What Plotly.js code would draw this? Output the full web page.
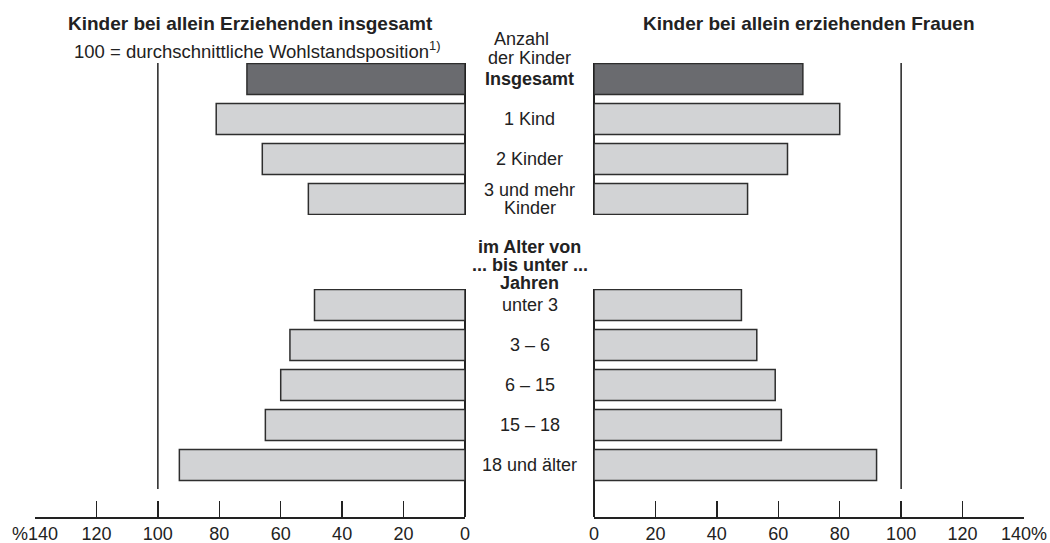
<!DOCTYPE html>
<html><head><meta charset="utf-8">
<script src="https://cdn.plot.ly/plotly-3.0.1.min.js"></script>
<style>html,body{margin:0;padding:0;background:#fff}#chart{width:1050px;height:543px}</style>
</head><body><div id="chart"></div>
<script>
// ---- data ----
const groupKids = ["Insgesamt", "1 Kind", "2 Kinder", "3 und mehr Kinder"];
const groupAge = ["unter 3", "3 – 6", "6 – 15", "15 – 18", "18 und älter"];
const kidsAll = [71, 81, 66, 51];
const kidsWomen = [68, 80, 63, 50];
const ageAll = [49, 57, 60, 65, 93];
const ageWomen = [48, 53, 59, 61, 92];
const tickVals = [0, 20, 40, 60, 80, 100, 120, 140];
const tickTextLeft = ["0", "20", "40", "60", "80", "100", "120", "%140"];
const tickTextRight = ["0", "20", "40", "60", "80", "100", "120", "140%"];
const referenceLevel = 100;
const titleLeft = "Kinder bei allein Erziehenden insgesamt";
const subtitleLeft = "100 = durchschnittliche Wohlstandsposition<sup>1)</sup>";
const titleRight = "Kinder bei allein erziehenden Frauen";
const headKids = ["Anzahl", "der Kinder"];
const headAge = ["im Alter von", "... bis unter ...", "Jahren"];

// ---- styling ----
const W = 1050, H = 543;
const FONT = "Liberation Sans, Arial, Helvetica, sans-serif";
const INK = "#222222";
const DARK = "#6a6b6f", LIGHT = "#d2d3d5";
const py = p => 1 - p / H;
const pxx = p => p / W;

const kidsColors = groupKids.map((c, i) => i === 0 ? DARK : LIGHT);
const ageColors = groupAge.map(() => LIGHT);

function bars(x, y, colors, xa, ya) {
  return {
    type: "bar", orientation: "h", x: x, y: y, xaxis: xa, yaxis: ya,
    width: 0.775,
    marker: { color: colors, line: { color: "#2e2e2e", width: 1.5 } },
    hoverinfo: "skip", showlegend: false
  };
}

const data = [
  bars(kidsAll, groupKids, kidsColors, "x", "y"),
  bars(ageAll, groupAge, ageColors, "x", "y2"),
  bars(kidsWomen, groupKids, kidsColors, "x2", "y"),
  bars(ageWomen, groupAge, ageColors, "x2", "y2")
];

const xCommon = {
  showline: true, linecolor: INK, linewidth: 1.5,
  ticks: "inside", ticklen: 16, tickwidth: 1.5, tickcolor: INK,
  tickvals: tickVals, showgrid: false,
  zeroline: true, zerolinecolor: INK, zerolinewidth: 1.5,
  tickfont: { family: FONT, size: 18, color: INK },
  fixedrange: true, anchor: "y2"
};

const yCommon = {
  type: "category", showticklabels: false, showgrid: false, zeroline: false,
  showline: false, ticks: "", fixedrange: true
};

const annotations = [];
function ann(text, x, y, opts) {
  annotations.push(Object.assign({
    text: text, x: x, y: y, xref: "paper", yref: "paper", showarrow: false,
    xanchor: "center", yanchor: "middle",
    font: { family: FONT, size: 18, color: INK }
  }, opts || {}));
}
const cx = pxx(529.5);
const titleFont = { family: FONT, size: 19, color: INK };
// titles (centred over each panel)
ann("<b>" + titleLeft + "</b>", pxx(250), py(23), { font: titleFont });
ann(subtitleLeft, pxx(72), py(50), { xanchor: "left", font: { family: FONT, size: 18.5, color: INK } });
ann("<b>" + titleRight + "</b>", pxx(809), py(23), { font: titleFont });
// group headers
ann(headKids[0], pxx(521.5), py(39));
ann(headKids[1], cx, py(58));
headAge.forEach((t, i) => ann("<b>" + t + "</b>", cx, py(247 + i * 18)));
// category labels
groupKids.forEach((c, i) => {
  if (i === 0) {
    ann("<b>" + c + "</b>", cx, c, { yref: "y" });
  } else if (c === "3 und mehr Kinder") {
    ann("3 und mehr", cx, c, { yref: "y", yshift: 9 });
    ann("Kinder", cx, c, { yref: "y", yshift: -9 });
  } else {
    ann(c, cx, c, { yref: "y" });
  }
});
groupAge.forEach(c => ann(c, cx, c, { yref: "y2" }));

const refLine = xr => ({
  type: "line", xref: xr, yref: "paper", x0: referenceLevel, x1: referenceLevel,
  y0: py(489), y1: py(63), line: { color: INK, width: 1.5 }, layer: "below"
});

const layout = {
  width: W, height: H,
  margin: { l: 0, r: 0, t: 0, b: 0 },
  paper_bgcolor: "#ffffff", plot_bgcolor: "rgba(0,0,0,0)",
  showlegend: false, bargap: 0,
  xaxis: Object.assign({}, xCommon, { domain: [pxx(35), pxx(465)], range: [140, 0], ticktext: tickTextLeft }),
  xaxis2: Object.assign({}, xCommon, { domain: [pxx(594), pxx(1024)], range: [0, 140], ticktext: tickTextRight }),
  yaxis: Object.assign({}, yCommon, { domain: [py(215), py(63)], range: [3.4, -0.4], categoryarray: groupKids, categoryorder: "array", anchor: "x" }),
  yaxis2: Object.assign({}, yCommon, { domain: [py(517), py(289)], range: [5.3, -0.4], categoryarray: groupAge, categoryorder: "array", anchor: "x" }),
  shapes: [refLine("x"), refLine("x2")],
  annotations: annotations
};

Plotly.newPlot("chart", data, layout, { displayModeBar: false, staticPlot: true });
</script>
</body></html>
